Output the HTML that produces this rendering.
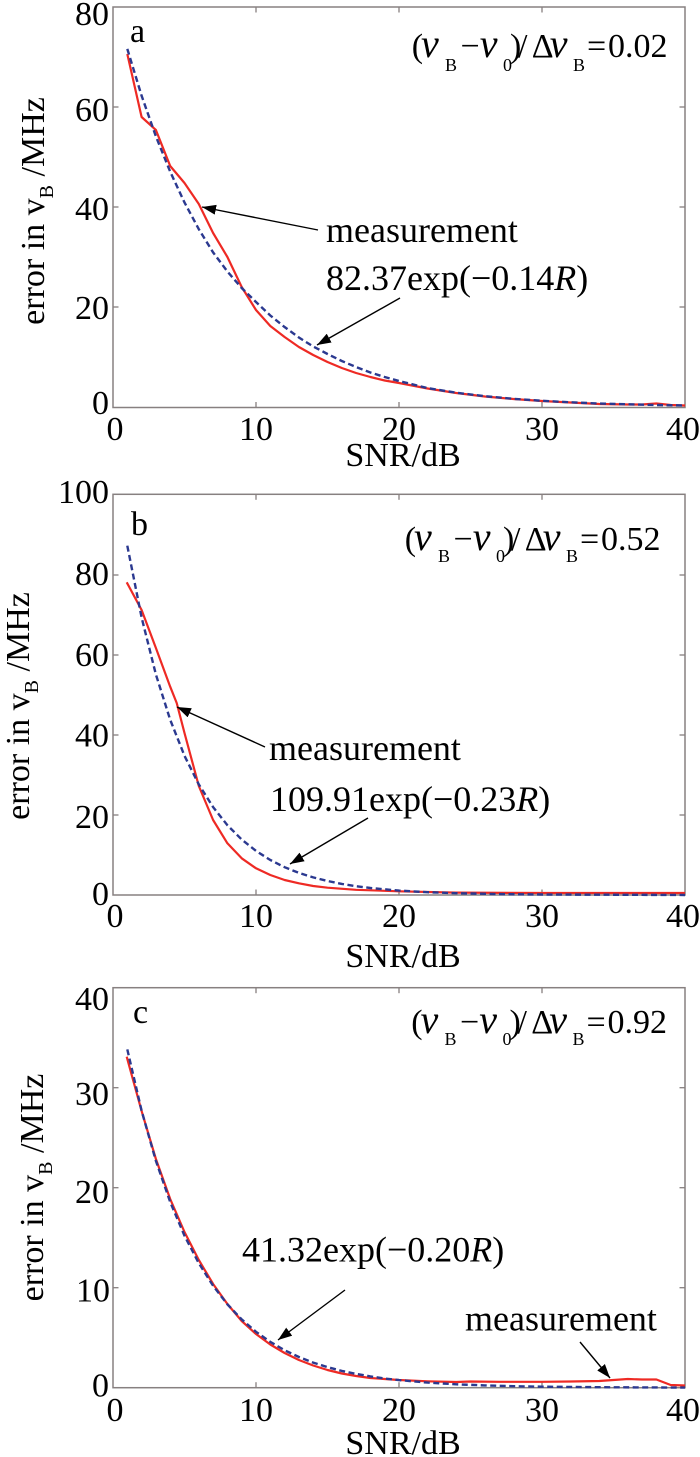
<!DOCTYPE html>
<html>
<head>
<meta charset="utf-8">
<style>
html,body{margin:0;padding:0;background:#fff;}
svg{display:block;}
text{font-family:"Liberation Serif","DejaVu Serif",serif;fill:#000;}
</style>
</head>
<body>
<svg width="700" height="1457" viewBox="0 0 700 1457" xmlns="http://www.w3.org/2000/svg" font-family="Liberation Serif, DejaVu Serif, serif">
<defs>
<marker id="ah" markerUnits="userSpaceOnUse" markerWidth="16" markerHeight="10" refX="14" refY="5" orient="auto">
<path d="M0,0 L14,5 L0,10 z" fill="#000"/>
</marker>
</defs>
<rect x="0" y="0" width="700" height="1457" fill="#fff"/>

<!-- ================= PANEL A ================= -->
<g>
<rect x="113" y="7" width="572" height="400.5" fill="none" stroke="#878080" stroke-width="1.5"/>
<g stroke="#878080" stroke-width="1.3">
<line x1="256" y1="407.5" x2="256" y2="402"/><line x1="399" y1="407.5" x2="399" y2="402"/><line x1="542" y1="407.5" x2="542" y2="402"/>
<line x1="256" y1="7" x2="256" y2="12.5"/><line x1="399" y1="7" x2="399" y2="12.5"/><line x1="542" y1="7" x2="542" y2="12.5"/>
<line x1="113" y1="107" x2="118.5" y2="107"/><line x1="113" y1="207" x2="118.5" y2="207"/><line x1="113" y1="307" x2="118.5" y2="307"/>
<line x1="685" y1="107" x2="679.5" y2="107"/><line x1="685" y1="207" x2="679.5" y2="207"/><line x1="685" y1="307" x2="679.5" y2="307"/>
</g>
<g font-size="34" text-anchor="end">
<text x="109" y="25">80</text>
<text x="109" y="121">60</text>
<text x="109" y="220">40</text>
<text x="109" y="319">20</text>
<text x="109" y="414">0</text>
</g>
<g font-size="34" text-anchor="middle">
<text x="115" y="440">0</text>
<text x="256" y="440">10</text>
<text x="399" y="440">20</text>
<text x="542" y="440">30</text>
<text x="683" y="440">40</text>
<text x="403" y="466">SNR/dB</text>
</g>
<text transform="translate(44,211) rotate(-90)" text-anchor="middle" font-size="34">error in v<tspan font-size="20" dy="9">B</tspan><tspan dy="-9"> /MHz</tspan></text>
<text x="130" y="42" font-size="34">a</text>

<polyline fill="none" stroke="#ee2a24" stroke-width="2.2" stroke-linejoin="round" points="127.3,54 141.6,117 155.9,130 170.2,166 184.5,183 198.8,204 213.1,233 227.4,257 241.7,287 256,310 270.3,326 284.6,337 298.9,347 313.2,355 327.5,362 341.8,368 356.1,373 370.4,377 384.7,380.5 399,383 427.6,388.5 456.2,393 484.8,396.5 513.4,399 542,401 570.6,402.5 599.2,404 627.8,404.5 642.1,404.5 656.4,403.5 670.7,405 685,405.5"/>
<polyline fill="none" stroke="#2b3990" stroke-width="2.4" stroke-dasharray="6 3.5" points="127.3,48.9 141.6,95.7 155.9,136.4 170.2,171.7 184.5,202.5 198.8,229.2 213.1,252.4 227.4,271.5 241.7,288 256,302 270.3,315.5 284.6,327 298.9,337.5 313.2,346.5 327.5,354 341.8,361 356.1,367 370.4,372.5 384.7,377 399,381 427.6,388.1 456.2,392.7 484.8,396.2 513.4,398.8 542,400.8 570.6,402.3 599.2,403.5 627.8,404.3 656.4,405 685,405.5"/>

<line x1="318" y1="230" x2="202" y2="207" stroke="#000" stroke-width="1.4" marker-end="url(#ah)"/>
<line x1="400" y1="298" x2="317" y2="345" stroke="#000" stroke-width="1.4" marker-end="url(#ah)"/>
<text x="326" y="242" font-size="36">measurement</text>
<text x="326" y="290" font-size="36">82.37exp(−0.14<tspan font-style="italic">R</tspan>)</text>

<g font-size="34">
<text x="411.7" y="57">(</text>
<text x="421" y="57" font-style="italic" font-size="40">ν</text>
<text x="445" y="71" font-size="18">B</text>
<text x="460.5" y="57">−</text>
<text x="479.7" y="57" font-style="italic" font-size="40">ν</text>
<text x="503" y="71" font-size="18">0</text>
<text x="510" y="57">)</text>
<text x="518" y="57">/</text>
<text x="531.7" y="57">Δ</text>
<text x="549.7" y="57" font-style="italic" font-size="40">ν</text>
<text x="573" y="71" font-size="18">B</text>
<text x="587" y="57">=</text>
<text x="608" y="57">0.02</text>
</g>
</g>

<!-- ================= PANEL B ================= -->
<g>
<rect x="113" y="494.3" width="572" height="400.7" fill="none" stroke="#878080" stroke-width="1.5"/>
<g stroke="#878080" stroke-width="1.3">
<line x1="256" y1="895" x2="256" y2="889.5"/><line x1="399" y1="895" x2="399" y2="889.5"/><line x1="542" y1="895" x2="542" y2="889.5"/>
<line x1="256" y1="494.3" x2="256" y2="499.8"/><line x1="399" y1="494.3" x2="399" y2="499.8"/><line x1="542" y1="494.3" x2="542" y2="499.8"/>
<line x1="113" y1="575" x2="118.5" y2="575"/><line x1="113" y1="655" x2="118.5" y2="655"/><line x1="113" y1="735" x2="118.5" y2="735"/><line x1="113" y1="815" x2="118.5" y2="815"/>
<line x1="685" y1="575" x2="679.5" y2="575"/><line x1="685" y1="655" x2="679.5" y2="655"/><line x1="685" y1="735" x2="679.5" y2="735"/><line x1="685" y1="815" x2="679.5" y2="815"/>
</g>
<g font-size="34" text-anchor="end">
<text x="109" y="503">100</text>
<text x="109" y="585">80</text>
<text x="109" y="666">60</text>
<text x="109" y="746.5">40</text>
<text x="109" y="828">20</text>
<text x="109" y="905">0</text>
</g>
<g font-size="34" text-anchor="middle">
<text x="115" y="927">0</text>
<text x="256" y="927">10</text>
<text x="399" y="927">20</text>
<text x="542" y="927">30</text>
<text x="683" y="927">40</text>
<text x="403" y="967">SNR/dB</text>
</g>
<text transform="translate(29,706) rotate(-90)" text-anchor="middle" font-size="34">error in v<tspan font-size="20" dy="9">B</tspan><tspan dy="-9"> /MHz</tspan></text>
<text x="131" y="535" font-size="34">b</text>

<polyline fill="none" stroke="#ee2a24" stroke-width="2.2" stroke-linejoin="round" points="126.7,582.3 141.6,610 155.9,648 170.2,686.7 176.7,703 184.5,733 198.8,786 213.1,820 227.4,843.3 241.7,858.3 256,868.3 270.3,875 284.6,880 298.9,883.3 313.2,886 327.5,887.7 356.1,889.8 399,891.3 456.2,892.6 542,893 685,893"/>
<polyline fill="none" stroke="#2b3990" stroke-width="2.4" stroke-dasharray="6 3.5" points="127.3,545.7 141.6,617.5 155.9,674.5 170.2,719.8 184.5,755.8 198.8,784.4 213.1,807.1 227.4,825.2 241.7,839.5 256,850.9 270.3,860 284.6,867.2 298.9,872.9 313.2,877.4 327.5,881 341.8,883.9 356.1,886.2 370.4,888 399,890.6 427.6,892.2 456.2,893.2 499,894.1 542,894.5 685,895"/>

<line x1="265" y1="747" x2="177" y2="707" stroke="#000" stroke-width="1.4" marker-end="url(#ah)"/>
<line x1="368" y1="818" x2="290" y2="864" stroke="#000" stroke-width="1.4" marker-end="url(#ah)"/>
<text x="269" y="760" font-size="36">measurement</text>
<text x="270" y="811" font-size="36">109.91exp(−0.23<tspan font-style="italic">R</tspan>)</text>

<g font-size="34">
<text x="404.7" y="550">(</text>
<text x="414" y="550" font-style="italic" font-size="40">ν</text>
<text x="438" y="562" font-size="18">B</text>
<text x="453.5" y="550">−</text>
<text x="472.7" y="550" font-style="italic" font-size="40">ν</text>
<text x="496" y="562" font-size="18">0</text>
<text x="503" y="550">)</text>
<text x="511" y="550">/</text>
<text x="524.7" y="550">Δ</text>
<text x="542.7" y="550" font-style="italic" font-size="40">ν</text>
<text x="566" y="562" font-size="18">B</text>
<text x="580" y="550">=</text>
<text x="601" y="550">0.52</text>
</g>
</g>

<!-- ================= PANEL C ================= -->
<g>
<rect x="113" y="987.7" width="572" height="400" fill="none" stroke="#878080" stroke-width="1.5"/>
<g stroke="#878080" stroke-width="1.3">
<line x1="256" y1="1387.7" x2="256" y2="1382.2"/><line x1="399" y1="1387.7" x2="399" y2="1382.2"/><line x1="542" y1="1387.7" x2="542" y2="1382.2"/>
<line x1="256" y1="987.7" x2="256" y2="993.2"/><line x1="399" y1="987.7" x2="399" y2="993.2"/><line x1="542" y1="987.7" x2="542" y2="993.2"/>
<line x1="113" y1="1087.7" x2="118.5" y2="1087.7"/><line x1="113" y1="1187.7" x2="118.5" y2="1187.7"/><line x1="113" y1="1287.7" x2="118.5" y2="1287.7"/>
<line x1="685" y1="1087.7" x2="679.5" y2="1087.7"/><line x1="685" y1="1187.7" x2="679.5" y2="1187.7"/><line x1="685" y1="1287.7" x2="679.5" y2="1287.7"/>
</g>
<g font-size="34" text-anchor="end">
<text x="109" y="1010">40</text>
<text x="109" y="1105">30</text>
<text x="109" y="1203">20</text>
<text x="110" y="1301.5">10</text>
<text x="109" y="1396.5">0</text>
</g>
<g font-size="34" text-anchor="middle">
<text x="115" y="1421">0</text>
<text x="256" y="1421">10</text>
<text x="399" y="1421">20</text>
<text x="542" y="1421">30</text>
<text x="683" y="1421">40</text>
<text x="403" y="1454">SNR/dB</text>
</g>
<text transform="translate(43,1187.5) rotate(-90)" text-anchor="middle" font-size="34">error in v<tspan font-size="20" dy="9">B</tspan><tspan dy="-9"> /MHz</tspan></text>
<text x="133" y="1023" font-size="34">c</text>

<polyline fill="none" stroke="#ee2a24" stroke-width="2.2" stroke-linejoin="round" points="126.7,1056.7 141.6,1111 155.9,1159 170.2,1199 184.5,1232 198.8,1260 213.1,1284 227.4,1304 241.7,1321 256,1334 270.3,1344.5 284.6,1353 298.9,1360 313.2,1365.5 327.5,1370 341.8,1373.5 356.1,1376 370.4,1378 399,1380 427.6,1381.3 456.2,1382 470.5,1381.5 499,1381.8 542,1381.8 570.6,1381.5 599.2,1381 613.5,1380 627.8,1379 642,1379.5 656.4,1379.5 670.7,1385 685,1385.5"/>
<polyline fill="none" stroke="#2b3990" stroke-width="2.4" stroke-dasharray="6 3.5" points="127.3,1049.4 141.6,1110.7 155.9,1160.9 170.2,1202 184.5,1235.7 198.8,1263.2 213.1,1285.8 227.4,1304.3 241.7,1319.4 256,1331.8 270.3,1341.9 284.6,1350.2 298.9,1357 313.2,1362.6 327.5,1367.1 341.8,1370.9 356.1,1373.9 370.4,1376.4 384.7,1378.5 399,1380.1 427.6,1382.6 456.2,1384.3 484.8,1385.4 513.4,1386.2 542,1386.7 613.5,1387.3 685,1387.6"/>

<line x1="345" y1="1290" x2="278" y2="1340" stroke="#000" stroke-width="1.4" marker-end="url(#ah)"/>
<line x1="580" y1="1342" x2="610" y2="1378" stroke="#000" stroke-width="1.4" marker-end="url(#ah)"/>
<text x="242" y="1261.5" font-size="36">41.32exp(−0.20<tspan font-style="italic">R</tspan>)</text>
<text x="465" y="1330.5" font-size="36">measurement</text>

<g font-size="34">
<text x="411.2" y="1033">(</text>
<text x="420.5" y="1033" font-style="italic" font-size="40">ν</text>
<text x="444.5" y="1045" font-size="18">B</text>
<text x="460" y="1033">−</text>
<text x="479.2" y="1033" font-style="italic" font-size="40">ν</text>
<text x="502.5" y="1045" font-size="18">0</text>
<text x="509.5" y="1033">)</text>
<text x="517.5" y="1033">/</text>
<text x="531.2" y="1033">Δ</text>
<text x="549.2" y="1033" font-style="italic" font-size="40">ν</text>
<text x="572.5" y="1045" font-size="18">B</text>
<text x="586.5" y="1033">=</text>
<text x="607.5" y="1033">0.92</text>
</g>
</g>
</svg>
</body>
</html>
